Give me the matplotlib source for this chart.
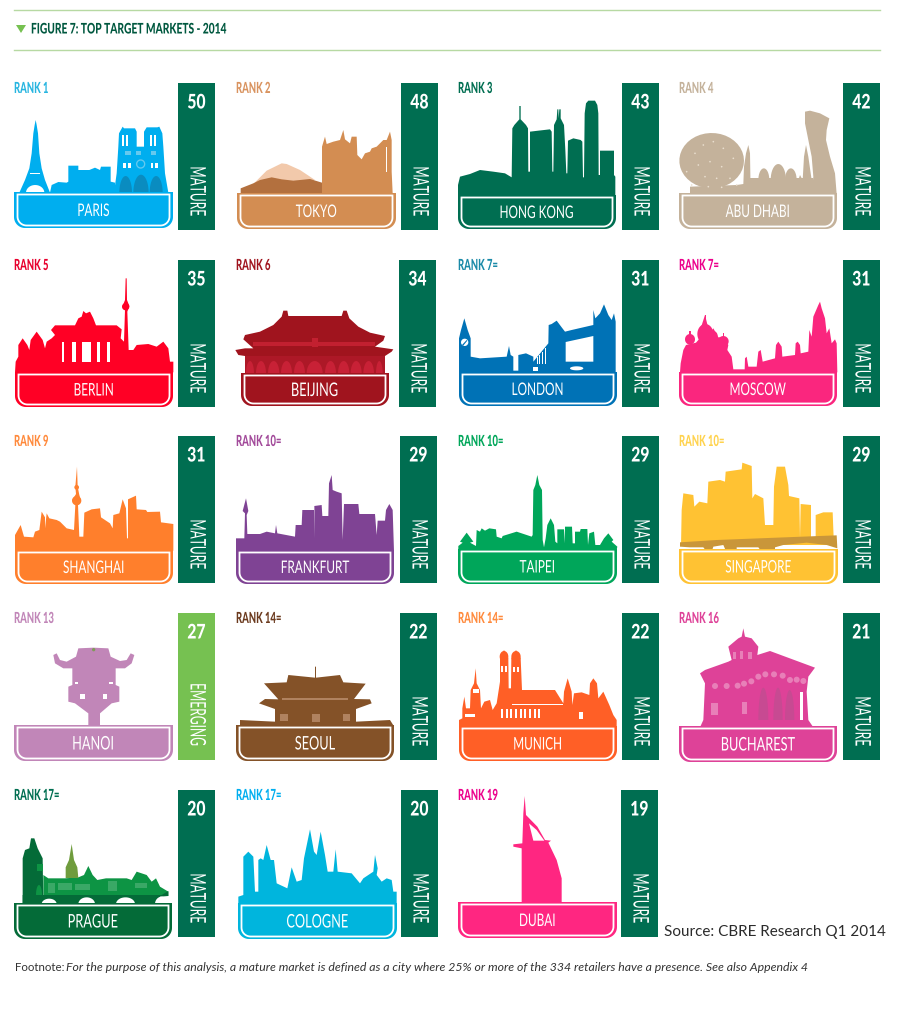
import numpy as np
import matplotlib
matplotlib.use('Agg')
import matplotlib.pyplot as plt
from matplotlib.patches import Polygon, Rectangle
from matplotlib.patheffects import AbstractPathEffect
from matplotlib.transforms import Affine2D

plt.rcParams['font.family'] = ['Lato', 'DejaVu Sans']

# datos de las tarjetas
RANK_LABELS = ['RANK 1', 'RANK 2', 'RANK 3', 'RANK 4', 'RANK 5', 'RANK 6', 'RANK 7=', 'RANK 7=', 'RANK 9',
               'RANK 10=', 'RANK 10=', 'RANK 10=', 'RANK 13', 'RANK 14=', 'RANK 14=', 'RANK 16',
               'RANK 17=', 'RANK 17=', 'RANK 19']
CITIES = ['PARIS', 'TOKYO', 'HONG KONG', 'ABU DHABI', 'BERLIN', 'BEIJING', 'LONDON', 'MOSCOW', 'SHANGHAI',
          'FRANKFURT', 'TAIPEI', 'SINGAPORE', 'HANOI', 'SEOUL', 'MUNICH', 'BUCHAREST', 'PRAGUE', 'COLOGNE', 'DUBAI']
SCORES = [50, 48, 43, 42, 35, 34, 31, 31, 31, 29, 29, 29, 27, 22, 22, 21, 20, 20, 19]
MARKET_TYPES = ['MATURE'] * 12 + ['EMERGING'] + ['MATURE'] * 6

CITY_COLOURS = ['#00aeef', '#d38d52', '#006e51', '#c4b29b', '#ff0025', '#a0141e', '#0072b6', '#fa267e', '#ff7f2c',
                '#7f4394', '#00a65a', '#ffc233', '#c186b8', '#845228', '#ff5f26', '#de4298', '#046b38', '#00b5dd',
                '#ff2681']
RANK_COLOURS = ['#27b5e0', '#d9935f', '#006e51', '#c4b29b', '#e8002d', '#a0141e', '#1a8aa8', '#ec008c', '#ff8a3c',
                '#a24a9a', '#00a65a', '#ffd34e', '#c186b8', '#6b3a1e', '#ff8a3c', '#de4298', '#006e51', '#00aeef',
                '#ec008c']

TITLE = 'FIGURE 7: TOP TARGET MARKETS - 2014'
SOURCE = 'Source: CBRE Research Q1 2014'
FOOT_LEAD = 'Footnote:'
FOOT_BODY = ('For the purpose of this analysis, a mature market is defined as a city where 25% or more '
             'of the 334 retailers have a presence. See also Appendix 4')

# geometria: izquierda, derecha, arriba, abajo del cartel y x de la barra
SIGNS = [(14, 173, 192, 228), (237, 396, 193, 229), (458, 616, 195, 229), (679, 837, 193, 229),
         (15, 173, 372, 407), (241, 389, 373, 406), (459, 617, 372, 406), (679, 837, 372, 406),
         (15, 173, 550, 584), (236, 394, 550, 584), (458, 617, 549, 584), (679, 838, 549, 584),
         (14, 173, 725, 761), (236, 394, 725, 761), (459, 617, 726, 761), (679, 837, 726, 762),
         (14, 172, 903, 939), (238, 397, 903, 939), (458, 617, 902, 938)]
BAR_X = [178, 401, 622, 843, 178, 399, 622, 843, 178, 400, 622, 843, 178, 400, 622, 843, 178, 401, 621]
RANK_X = [14, 236, 458, 679]
ROW_TOP = [83, 260, 436, 613, 790]
BAR_H = 147
BIG_NAMES = ['BEIJING', 'HANOI', 'SEOUL', 'PRAGUE', 'BUCHAREST', 'COLOGNE']


def box(x0, y0, x1, y1):
    return [(x0, y0), (x1, y0), (x1, y1), (x0, y1)]


def blob(cx, cy, rx, ry=None):
    ry = rx if ry is None else ry
    t = np.linspace(0, 2 * np.pi, 40)
    return list(zip(cx + rx * np.cos(t), cy + ry * np.sin(t)))


def arch(x0, x1, base, top):
    t = np.linspace(np.pi, 0, 20)
    return list(zip((x0 + x1) / 2 + (x1 - x0) / 2 * np.cos(t), base - (base - top) * np.sin(t)))


# siluetas: origen del recorte y capas (color, puntos), puntos a escala 3x
C = None
W = '#ffffff'
SKYLINES = {
    'PARIS': ((0, 0), [
        (C, [(58, 578), (75, 540), (88, 505), (95, 460), (100, 400), (104, 375), (107, 360), (110, 375), (114, 400),
             (118, 460), (125, 505), (135, 540), (150, 578)]),
        (W, arch(78, 133, 578, 555)),
        (W, box(90, 518, 120, 522)),
        (C, [(150, 578), (155, 555), (175, 546), (200, 548), (205, 545), (205, 497), (235, 497), (235, 510), (268, 510),
             (285, 503), (300, 510), (303, 500), (332, 500), (332, 545), (345, 548), (345, 578)]),
        (C, [(342, 578), (350, 520), (355, 440), (357, 400), (368, 380), (372, 385), (405, 385), (410, 395), (410, 440),
             (432, 440), (432, 395), (440, 382), (472, 382), (478, 380), (487, 400), (490, 440), (495, 520), (505, 578)]),
        (W, box(366, 405, 371, 438)), (W, box(378, 405, 383, 438)),
        (W, box(451, 405, 456, 438)), (W, box(462, 405, 467, 438)),
        ('#66c9ee', box(376, 452, 392, 466)), ('#66c9ee', box(408, 452, 424, 466)), ('#66c9ee', box(452, 452, 468, 466)),
        (W, box(370, 490, 377, 505)), (W, box(385, 490, 392, 505)),
        (W, box(452, 490, 459, 505)), (W, box(466, 490, 473, 505)),
        ('#66c9ee', blob(422, 492, 14)), (C, blob(422, 492, 10)),
        ('#0a8cc0', arch(358, 396, 578, 528)), ('#0a8cc0', arch(400, 446, 578, 524)), ('#0a8cc0', arch(449, 488, 578, 528)),
    ]),
    'TOKYO': ((0, 0), [
        ('#f2c9ab', [(760, 552), (800, 512), (845, 490), (860, 492), (900, 510), (945, 540), (880, 550), (790, 550)]),
        ('#b3703e', [(722, 580), (722, 565), (760, 550), (780, 540), (815, 532), (845, 538), (880, 542), (930, 537),
                     (966, 548), (966, 580)]),
        (C, [(966, 580), (966, 440), (975, 410), (980, 432), (1000, 425), (1020, 420), (1030, 390), (1035, 418),
             (1050, 430), (1055, 410), (1070, 410), (1072, 465), (1085, 478), (1095, 460), (1110, 455), (1115, 445),
             (1130, 440), (1150, 420), (1160, 420), (1170, 395), (1175, 420), (1175, 515), (1178, 580)]),
        (W, box(1158, 440, 1160, 515)),
    ]),
    'HONG KONG': ((450, 70), [
        (C, [(24, 377), (24, 345), (30, 320), (60, 312), (90, 300), (130, 305), (165, 310), (185, 322), (187, 175),
             (193, 165), (208, 148), (208, 108), (212, 108), (212, 148), (228, 165), (234, 175), (235, 305), (240, 305),
             (240, 185), (265, 182), (300, 178), (305, 185), (307, 305), (310, 305), (312, 165), (320, 148), (322, 118),
             (325, 118), (326, 145), (328, 118), (332, 118), (332, 145), (342, 165), (346, 240), (349, 310), (352, 310),
             (354, 212), (370, 205), (392, 210), (397, 215), (399, 322), (402, 322), (404, 130), (408, 100), (415, 92),
             (435, 92), (442, 105), (445, 130), (446, 315), (450, 315), (450, 242), (492, 242), (492, 315), (496, 320),
             (496, 377)]),
    ]),
    'ABU DHABI': ((450, 70), [
        (C, blob(785, 272, 97, 83)),
        (C, [(720, 372), (720, 350), (860, 345), (880, 342), (882, 290), (888, 250), (895, 225), (900, 250), (902, 372)]),
        (C, box(900, 325, 1090, 372)),
        (C, arch(925, 958, 330, 295)), (C, arch(962, 1008, 330, 282)), (C, arch(1005, 1040, 330, 295)),
        (C, [(1045, 330), (1050, 315), (1058, 330), (1062, 260), (1068, 225), (1075, 260), (1085, 330)]),
        (C, [(1065, 125), (1080, 122), (1110, 130), (1138, 145), (1130, 180), (1128, 210), (1140, 260), (1155, 310),
             (1160, 372), (1085, 372), (1090, 320), (1085, 260), (1075, 210), (1065, 160)]),
    ] + [('#eadfcf', blob(x, y, 2.5)) for x, y in
         [(735, 250), (760, 225), (790, 215), (820, 235), (850, 265), (745, 285), (780, 275), (815, 290), (765, 320),
          (800, 325), (710, 305), (840, 325), (725, 345), (860, 345), (775, 350), (815, 352)]]),
    'BERLIN': ((0, 250), [
        (C, [(45, 367), (47, 335), (55, 320), (55, 285), (68, 265), (82, 285), (88, 300), (92, 270), (110, 245), (128, 270),
             (135, 295), (140, 275), (155, 265), (165, 255), (153, 240), (165, 226), (225, 226), (235, 205), (245, 200),
             (250, 183), (258, 190), (270, 185), (280, 205), (288, 226), (350, 226), (365, 238), (362, 265), (372, 275),
             (375, 180), (368, 168), (375, 150), (377, 85), (380, 85), (381, 150), (388, 168), (382, 185), (386, 300),
             (400, 300), (410, 285), (445, 282), (470, 290), (490, 275), (505, 295), (510, 335), (520, 335), (520, 367)]),
        (W, box(187, 275, 193, 335)), (W, box(215, 275, 228, 335)), (W, box(245, 275, 273, 335)),
        (W, box(290, 275, 300, 335)), (W, box(322, 275, 330, 335)),
        ('#ff0025', blob(377, 170, 11)),
    ]),
    'BEIJING': ((0, 250), [
        (C, [(706, 300), (735, 295), (760, 295), (730, 268), (735, 255), (780, 245), (820, 225), (845, 200), (850, 182),
             (862, 182), (865, 198), (1025, 198), (1030, 182), (1040, 182), (1048, 205), (1075, 230), (1110, 248),
             (1155, 258), (1150, 272), (1125, 290), (1180, 298), (1175, 305), (1155, 318), (1155, 372), (735, 372),
             (735, 318), (715, 315)]),
        ('#ad1827', box(735, 318, 1155, 372)),
        ('#c22030', box(760, 275, 1125, 287)), ('#c22030', box(935, 265, 953, 290)),
    ] + [('#c82136', arch(x0, x1, 370, 333)) for x0, x1 in
         [(738, 762), (768, 798), (804, 838), (843, 876), (882, 915), (920, 968), (975, 1008), (1014, 1048), (1052, 1085),
          (1090, 1122), (1128, 1148)]]),
    'LONDON': ((450, 250), [
        (C, [(27, 367), (27, 265), (33, 240), (43, 205), (53, 240), (62, 265), (62, 320), (90, 325), (170, 320), (177, 288),
             (182, 315), (190, 320), (190, 362), (205, 362), (205, 315), (228, 310), (250, 320), (250, 335), (295, 280),
             (296, 225), (305, 222), (320, 212), (335, 232), (345, 245), (365, 240), (430, 225), (430, 180), (436, 205),
             (450, 190), (462, 163), (475, 195), (485, 210), (492, 190), (497, 215), (497, 367)]),
        (W, [(347, 276), (430, 258), (430, 335), (347, 335)]),
        (W, blob(44, 277, 11)), (C, [(36, 285), (50, 270), (52, 272), (39, 288)]),
        (W, box(260, 322, 263, 342)), (W, box(268, 315, 271, 342)), (W, box(276, 305, 279, 342)), (W, box(284, 295, 287, 342)),
        (W, box(248, 350, 265, 362)), (W, blob(380, 355, 20, 6)),
    ]),
    'MOSCOW': ((450, 250), [
        (C, [(690, 367), (692, 340), (700, 300), (708, 285), (738, 278), (752, 262), (752, 235), (765, 195), (775, 235),
             (782, 245), (790, 235), (805, 262), (820, 262), (835, 285), (832, 300),
             (845, 320), (850, 358), (884, 358), (885, 325), (890, 320), (895, 350), (920, 350), (925, 305), (932, 300),
             (938, 335), (975, 325), (978, 285), (985, 275), (995, 290), (997, 320), (1035, 315), (1037, 280), (1043, 275),
             (1050, 285), (1052, 310), (1075, 305), (1078, 240), (1085, 260), (1090, 200), (1105, 165), (1110, 155),
             (1115, 175), (1125, 205), (1130, 250), (1138, 235), (1145, 280), (1155, 268), (1160, 280), (1162, 367)]),
        (C, blob(720, 268, 15, 16)), (C, blob(820, 274, 16)), (C, blob(766, 252, 24, 30)), (C, blob(790, 258, 13, 15)),
        (C, box(764, 195, 768, 225)), (C, box(718, 242, 722, 258)), (C, box(818, 250, 822, 264)),
    ]),
    'SHANGHAI': ((0, 430), [
        (C, [(45, 362), (45, 315), (62, 285), (72, 320), (100, 322), (105, 305), (118, 300), (125, 245), (135, 262),
             (135, 295), (140, 250), (148, 265), (170, 270), (180, 275), (200, 295), (222, 300), (226, 225), (217, 210),
             (228, 192), (226, 170), (231, 110), (233, 170), (238, 195), (243, 212), (234, 225), (238, 320), (250, 320),
             (253, 248), (275, 238), (300, 235), (303, 262), (330, 280), (338, 295), (340, 255), (358, 250), (368, 208),
             (378, 235), (381, 325), (384, 325), (384, 208), (408, 197), (410, 238), (438, 240), (442, 246), (480, 245),
             (483, 277), (520, 282), (520, 362)]),
        (C, blob(230, 212, 14)), (C, blob(230, 172, 7)),
    ]),
    'FRANKFURT': ((0, 430), [
        (C, [(708, 364), (708, 325), (733, 325), (735, 250), (728, 243), (738, 205), (745, 243), (740, 255), (742, 312),
             (780, 312), (800, 305), (825, 310), (828, 285), (832, 310), (885, 320), (887, 285), (905, 285), (907, 240),
             (942, 240), (945, 325), (943, 228), (965, 225), (967, 258), (985, 258), (987, 160), (995, 135), (998, 180),
             (1010, 185), (1025, 190), (1028, 330), (1032, 222), (1075, 222), (1078, 252), (1125, 252), (1130, 315),
             (1133, 272), (1155, 272), (1158, 240), (1168, 222), (1178, 240), (1182, 364)]),
    ]),
    'TAIPEI': ((450, 430), [
        (C, [(25, 360), (25, 348), (38, 338), (30, 335), (50, 308), (70, 335), (60, 338), (78, 348), (80, 300), (90, 305),
             (95, 295), (105, 302), (118, 295), (138, 298), (140, 320), (155, 325), (158, 318), (200, 305), (245, 320),
             (248, 315), (250, 180), (256, 165), (262, 135), (268, 165), (276, 180), (278, 330), (282, 352), (287, 325),
             (292, 285), (302, 265), (312, 285), (316, 335), (322, 340), (322, 298), (342, 298), (345, 340), (345, 290),
             (366, 290), (368, 340), (375, 340), (375, 305), (390, 305), (392, 297), (412, 297), (414, 345), (418, 310),
             (432, 305), (436, 345), (450, 345), (462, 325), (475, 310), (490, 330), (485, 335), (502, 350), (500, 360)]),
    ]),
    'SINGAPORE': ((450, 430), [
        (C, [(693, 350), (695, 240), (700, 190), (730, 195), (733, 230), (748, 215), (772, 220), (775, 155), (810, 150),
             (825, 155), (827, 125), (875, 118), (877, 98), (905, 108), (907, 205), (915, 192), (940, 205), (945, 285),
             (970, 285), (972, 170), (980, 110), (1005, 110), (1015, 165), (1017, 198), (1048, 205), (1050, 325), (1052, 222),
             (1083, 225), (1083, 325), (1097, 322), (1097, 255), (1120, 247), (1148, 247), (1152, 350)]),
        (W, box(690, 345, 1162, 356)),
        ('#c9963a', [(690, 337), (800, 330), (1160, 316), (1162, 355), (1130, 345), (1070, 338), (1000, 345), (975, 352),
                     (975, 372), (940, 372), (925, 352), (860, 352), (860, 368), (830, 368), (820, 345), (790, 350),
                     (785, 365), (770, 365), (760, 352), (720, 352), (690, 350)]),
    ]),
    'HANOI': ((0, 605), [
        (C, [(265, 362), (265, 325), (225, 295), (205, 290), (205, 245), (217, 240), (217, 190), (190, 190), (165, 175),
             (160, 150), (170, 145), (180, 165), (200, 170), (228, 155), (235, 130), (280, 128), (325, 130), (332, 155),
             (360, 168), (380, 165), (392, 145), (403, 150), (395, 175), (375, 190), (347, 190), (347, 240), (358, 245),
             (358, 290), (335, 295), (300, 325), (300, 362)]),
        (W, box(240, 268, 255, 282)), (W, box(308, 268, 322, 282)),
        (W, box(225, 231, 235, 236)), (W, box(328, 231, 338, 236)),
        ('#7f9a5a', blob(281, 134, 5)),
    ]),
    'SEOUL': ((0, 605), [
        (C, [(720, 364), (720, 345), (825, 350), (825, 312), (777, 295), (795, 282), (835, 283), (792, 235), (860, 232),
             (865, 210), (945, 218), (945, 185), (948, 185), (948, 218), (1020, 210), (1030, 232), (1097, 236), (1062, 282),
             (1110, 283), (1115, 295), (1068, 312), (1068, 350), (1170, 345), (1182, 364)]),
        ('#b0825f', box(840, 328, 863, 348)), ('#b0825f', box(935, 328, 960, 352)), ('#b0825f', box(1028, 328, 1050, 348)),
        ('#b0825f', box(845, 280, 1045, 286)),
    ]),
    'MUNICH': ((450, 605), [
        (C, [(27, 364), (27, 345), (37, 340), (37, 310), (43, 275), (48, 310), (60, 310), (62, 255), (72, 235), (77, 190),
             (80, 235), (90, 255), (93, 310), (103, 290), (120, 285), (128, 315), (140, 295), (150, 230), (150, 160), (162, 135),
             (175, 160), (176, 250), (183, 250), (184, 160), (198, 135), (212, 160), (216, 255), (315, 255), (340, 295),
             (342, 260), (353, 220), (365, 260), (367, 300), (372, 265), (395, 262), (418, 270), (420, 235), (430, 220),
             (441, 235), (445, 280), (460, 260), (478, 300), (490, 330), (500, 345), (500, 364)]),
        (C, blob(162, 155, 13, 17)), (C, blob(198, 155, 14, 17)),
        (W, box(154, 182, 160, 200)), (W, box(164, 182, 170, 200)), (W, box(190, 185, 196, 202)), (W, box(200, 185, 206, 202)),
        (W, box(185, 296, 340, 300)), (W, box(45, 328, 75, 336)), (W, box(388, 322, 398, 342)),
        (W, box(70, 253, 86, 264)),
    ] + [(W, box(x, 312, x + 6, 338)) for x in range(153, 268, 14)]),
    'BUCHAREST': ((450, 605), [
        (C, [(750, 367), (760, 345), (765, 235), (750, 205), (765, 195), (835, 170), (845, 165), (835, 125), (865, 100),
             (875, 95), (880, 70), (885, 95), (905, 100), (925, 125), (922, 150), (960, 138), (1095, 188), (1075, 215),
             (1070, 260), (1075, 345), (1090, 367)]),
        ('#c74a92', arch(925, 955, 345, 248)), ('#c74a92', arch(970, 998, 345, 248)), ('#c74a92', arch(1005, 1033, 345, 255)),
        (W, box(1050, 260, 1058, 345)),
        ('#e87fb8', box(783, 295, 803, 330)), ('#e87fb8', box(876, 292, 890, 328)),
        ('#e87fb8', box(848, 140, 858, 163)), ('#e87fb8', box(870, 138, 880, 163)), ('#e87fb8', box(895, 140, 905, 163)),
    ] + [('#e87fb8', blob(x, y, 9)) for x, y in
         [(795, 243), (830, 243), (863, 242), (882, 236), (904, 229), (925, 215), (946, 208), (972, 208), (998, 212),
          (1020, 225), (1040, 224), (1060, 228)]]),
    'PRAGUE': ((0, 780), [
        ('#0d9444', [(130, 285), (145, 295), (195, 295), (235, 292), (252, 285), (265, 258), (278, 285), (292, 300), (318, 295),
                     (380, 295), (395, 300), (410, 275), (440, 285), (455, 305), (468, 295), (480, 320), (505, 335),
                     (505, 348), (130, 348)]),
        ('#6f9c3d', [(197, 294), (197, 262), (207, 240), (215, 192), (222, 240), (232, 262), (235, 294)]),
        (C, [(68, 372), (68, 235), (75, 210), (88, 205), (93, 175), (103, 175), (113, 205), (128, 235), (130, 372)]),
        (C, [(68, 345), (485, 345), (505, 333), (505, 348), (480, 350), (470, 372), (68, 372)]),
        ('#0d9444', box(110, 252, 128, 272)), ('#0d9444', arch(108, 126, 345, 315)),
        ('#3aa866', box(145, 310, 165, 340)), ('#3aa866', box(175, 310, 215, 330)), ('#3aa866', box(225, 312, 270, 330)),
        ('#3aa866', box(325, 302, 350, 332)), ('#3aa866', box(405, 308, 440, 324)),
        (W, arch(125, 170, 372, 356)), (W, arch(235, 285, 372, 352)), (W, arch(348, 405, 372, 352)), (W, arch(465, 505, 372, 350)),
    ]),
    'COLOGNE': ((0, 780), [
        (C, [(715, 370), (715, 350), (730, 345), (730, 230), (745, 215), (760, 230), (765, 335), (775, 335), (775, 240),
             (782, 235), (790, 240), (800, 195), (812, 240), (822, 240), (830, 310), (862, 325), (875, 262), (890, 305),
             (905, 300), (912, 235), (930, 148), (942, 215), (950, 225), (962, 155), (975, 225), (983, 275), (1000, 275),
             (1007, 208), (1013, 275), (1055, 280), (1080, 310), (1090, 295), (1120, 275), (1125, 225), (1133, 265),
             (1130, 285), (1145, 305), (1160, 295), (1175, 300), (1180, 335), (1190, 335), (1190, 370)]),
    ]),
    'DUBAI': ((450, 780), [
        (C, [(215, 367), (215, 205), (190, 200), (190, 193), (217, 190), (220, 100), (224, 48), (228, 105), (262, 140),
             (285, 180), (303, 182), (295, 188), (320, 240), (335, 295), (335, 367)]),
        (W, [(237, 130), (250, 182), (283, 182), (260, 150)]),
    ]),
}


class Squeeze(AbstractPathEffect):
    """Estrecha el texto en horizontal, el original usa una fuente muy condensada."""

    def __init__(self, sx, anchor='center'):
        self.sx = sx
        self.anchor = anchor

    def draw_path(self, renderer, gc, tpath, affine, rgbFace=None):
        xs = tpath.vertices[:, 0]
        x0 = xs.min() if self.anchor == 'left' else (xs.min() + xs.max()) / 2
        squeezed = Affine2D().translate(-x0, 0).scale(self.sx, 1).translate(x0, 0) + affine
        renderer.draw_path(gc, tpath, squeezed, rgbFace)


def sign_outline(x0, x1, y0, y1, r, n=12):
    t = np.linspace(0, np.pi / 2, n)
    right = [(x1 - r + r * np.sin(a), y1 - r + r * np.cos(a)) for a in t[::-1]]
    left = [(x0 + r - r * np.cos(a), y1 - r + r * np.sin(a)) for a in t[::-1]]
    return [(x0, y0), (x1, y0)] + right + left


def draw_skyline(ax, city, colour):
    (ox, oy), layers = SKYLINES[city]
    for layer_colour, pts in layers:
        verts = [(ox + x / 3, oy + y / 3) for x, y in pts]
        ax.add_patch(Polygon(verts, closed=True, fc=layer_colour or colour, ec='none', zorder=2))


def draw_card(ax, i):
    colour = CITY_COLOURS[i]
    x0, x1, y0, y1 = SIGNS[i]
    top = ROW_TOP[i // 4]
    ax.text(RANK_X[i % 4], top + 6, RANK_LABELS[i], color=RANK_COLOURS[i], fontsize=11, fontweight='black',
            ha='left', va='center', path_effects=[Squeeze(0.62, 'left')])
    draw_skyline(ax, CITIES[i], colour)
    ax.add_patch(Polygon(sign_outline(x0, x1, y0, y1, 11), closed=True, fc=colour, ec='none', zorder=3))
    ax.add_patch(Polygon(sign_outline(x0 + 3.5, x1 - 3.5, y0 + 2.5, y1 - 2.5, 9), closed=True, fc='none', ec='white',
                         lw=1.3, zorder=4))
    name_size = 13.5 if CITIES[i] in BIG_NAMES else 12.5
    ax.text((x0 + x1) / 2, (y0 + y1) / 2 + 1, CITIES[i], color='white', fontsize=name_size, ha='center', va='center',
            zorder=5, path_effects=[Squeeze(0.68)])

    emerging = MARKET_TYPES[i] == 'EMERGING'
    bar_x = BAR_X[i]
    ax.add_patch(Rectangle((bar_x, top), 37, BAR_H, fc='#76c151' if emerging else '#006e51', ec='none', zorder=3))
    ax.text(bar_x + 18.5, top + 19, str(SCORES[i]), color='white', fontsize=14.5, fontweight='black', ha='center',
            va='center', zorder=5, path_effects=[Squeeze(0.78)])
    ax.text(bar_x + 18.5, top + BAR_H - (45 if emerging else 38.5), MARKET_TYPES[i], color='white', fontsize=15.5,
            rotation=-90, ha='center', va='center', zorder=5, path_effects=[Squeeze(0.56)])


fig = plt.figure(figsize=(8.99, 10.24), dpi=100)
ax = fig.add_axes([0, 0, 1, 1])
ax.set_xlim(0, 899)
ax.set_ylim(1024, 0)
ax.axis('off')

for y in (9.5, 49.5):
    ax.plot([14, 880], [y, y], color='#b7d9a3', lw=1)
ax.add_patch(Polygon([(16, 25), (26, 25), (21, 33)], closed=True, fc='#76c151', ec='none'))
ax.text(31, 29.5, TITLE, color='#00583f', fontsize=10.5, fontweight='black', ha='left', va='center',
        path_effects=[Squeeze(0.70, 'left')])

for i in range(len(CITIES)):
    draw_card(ax, i)

ax.text(664, 932, SOURCE, color='#2b2b2b', fontsize=11, ha='left', va='center')
ax.text(15, 967.5, FOOT_LEAD, color='#333333', fontsize=8.3, ha='left', va='center')
ax.text(66, 967.5, FOOT_BODY, color='#333333', fontsize=8.8, style='italic', ha='left', va='center')

fig.savefig('out.png', dpi=100, facecolor='white')
